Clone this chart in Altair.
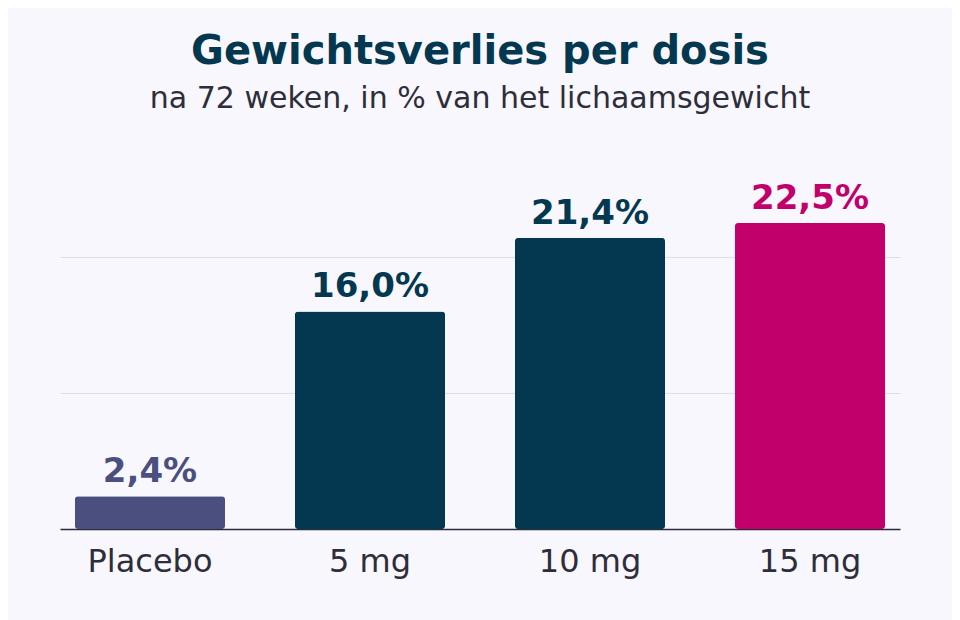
import altair as alt
import pandas as pd

doses = ["Placebo", "5 mg", "10 mg", "15 mg"]
loss = [2.4, 16.0, 21.4, 22.5]
labels = ["2,4%", "16,0%", "21,4%", "22,5%"]
colors = ["#4b4f7f", "#033850", "#033850", "#c2006b"]

df = pd.DataFrame({"dosis": doses, "verlies": loss, "label": labels, "kleur": colors})

x = alt.X(
    "dosis:N",
    sort=doses,
    scale=alt.Scale(paddingInner=0.318, paddingOuter=0.068),
    axis=alt.Axis(
        title=None,
        labelAngle=0,
        labelFontSize=32,
        labelColor="#2e2e3a",
        labelPadding=17,
        ticks=False,
        domainColor="#2b2b3b",
        domainWidth=1.5,
        grid=False,
    ),
)
y = alt.Y(
    "verlies:Q",
    scale=alt.Scale(domain=[0, 25], nice=False),
    axis=alt.Axis(
        title=None,
        labels=False,
        ticks=False,
        domain=False,
        values=[10, 20],
        gridColor="#dedde8",
        gridWidth=1.2,
    ),
)

bars = alt.Chart(df).mark_bar(cornerRadius=3).encode(
    x=x, y=y, color=alt.Color("kleur:N", scale=None)
)

text = alt.Chart(df).mark_text(
    baseline="alphabetic", dy=-14, fontSize=34, fontWeight="bold"
).encode(
    x=alt.X("dosis:N", sort=doses),
    y="verlies:Q",
    text="label:N",
    color=alt.Color("kleur:N", scale=None),
)

chart = (bars + text).properties(
    width=840,
    height=340,
    autosize=alt.AutoSizeParams(type="none"),
    padding={"left": 52, "top": 181, "right": 52, "bottom": 91},
    background="#f8f7fd",
    title=alt.TitleParams(
        text="Gewichtsverlies per dosis",
        subtitle="na 72 weken, in % van het lichaamsgewicht",
        anchor="middle",
        fontSize=40,
        fontWeight="bold",
        color="#033850",
        subtitleFontSize=30,
        subtitleColor="#2e2e3a",
        subtitlePadding=12,
        offset=68,
    ),
).configure(
    font="DejaVu Sans"
).configure_view(stroke=None)

chart.save("out.html", embed_options={"renderer": "svg", "actions": False})
